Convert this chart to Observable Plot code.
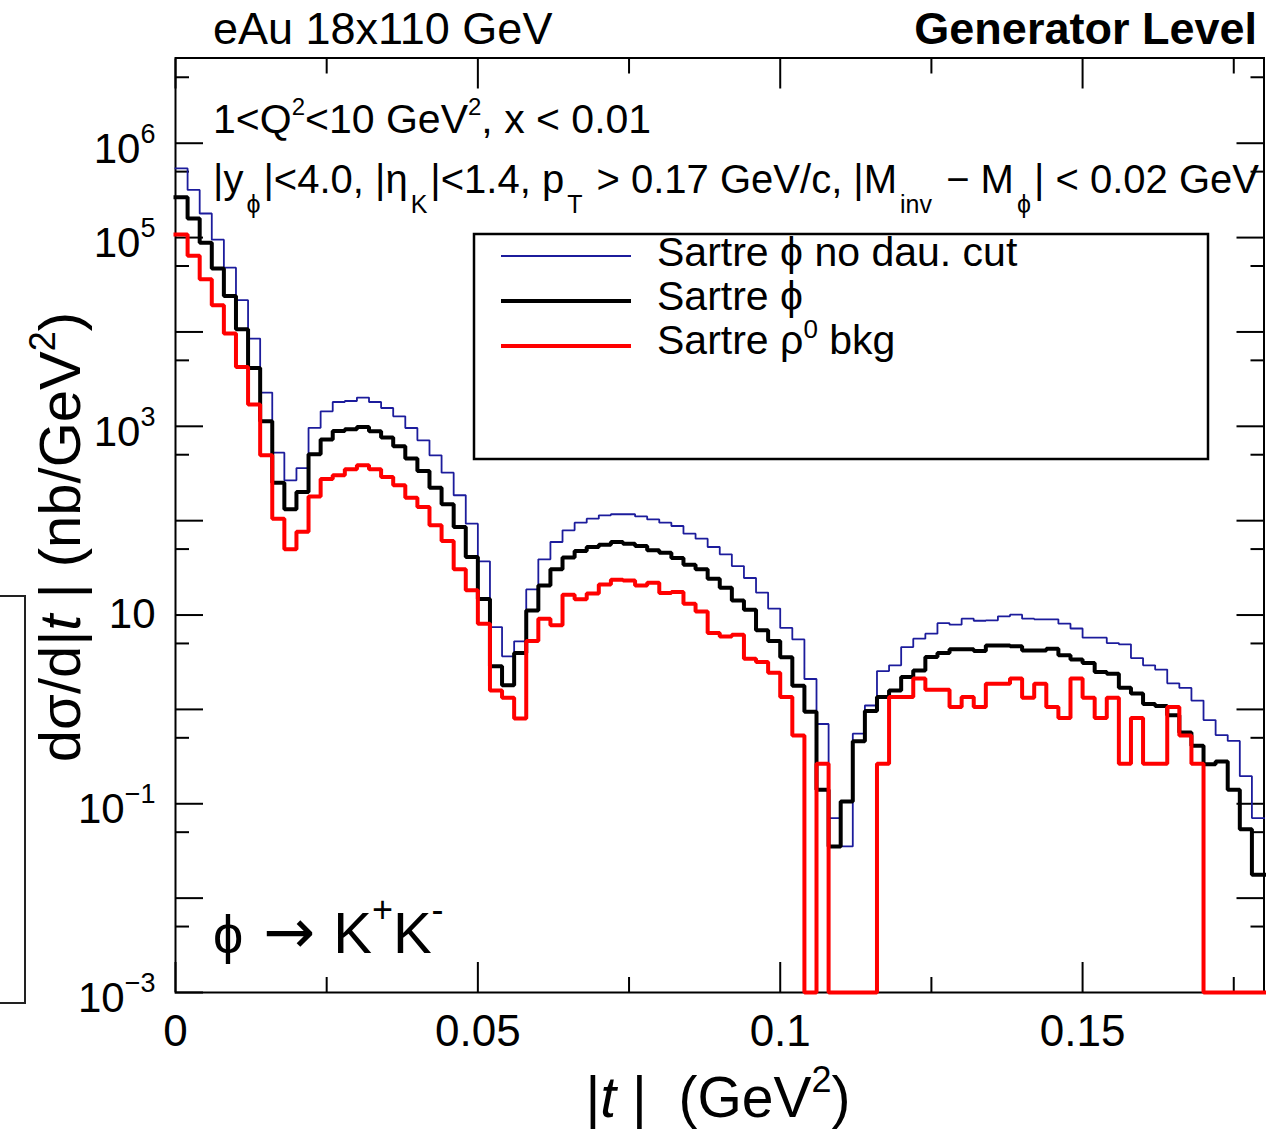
<!DOCTYPE html>
<html>
<head>
<meta charset="utf-8">
<script src="https://cdn.jsdelivr.net/npm/d3@7"></script>
<script src="https://cdn.jsdelivr.net/npm/@observablehq/plot@0.6"></script>
<style>
  html, body { margin: 0; padding: 0; background: #fff; }
  #wrap { position: relative; width: 1273px; height: 1129px; overflow: hidden; }
  #wrap svg { display: block; }
  #edge { position: absolute; left: -20px; top: 595px; width: 46px; height: 409px; border: 2px solid #222; box-sizing: border-box; }
</style>
</head>
<body>
<div id="wrap"><div id="edge"></div></div>
<script>
// ---- binning ----
const binWidth = 0.002;
const tMin = 0, tMax = 0.18;
const yMin = 1e-3, yMax = 8e6;

// ---- histogram contents, dσ/d|t| (nb/GeV^2), 90 bins of 0.002 GeV^2 ----
const noDauCut = [
  5.4e5, 3.2e5, 1.8e5, 9.5e4, 4.8e4, 2.17e4, 8.5e3, 2280, 526, 268,
  361, 964, 1443, 1811, 1855, 2014, 1811, 1564, 1277, 960,
  711, 493, 323, 186, 93, 37.1, 7.46, 3.65, 5.26, 18.7,
  38.9, 59.4, 79, 95.3, 105, 114, 117, 117, 111, 103,
  95.3, 87.8, 72.9, 64.5, 52.6, 44, 33, 24.7, 17.3, 11.7,
  7.3, 5.52, 2.1, 0.70, 0.0705, 0.0353, 0.553, 1.10, 2.55, 2.93,
  4.58, 5.62, 6.35, 8.2, 7.9, 9.16, 8.7, 8.8, 9.7, 10.1,
  9.16, 9.0, 9.0, 8.1, 7.2, 5.75, 5.75, 5.05, 4.89, 3.5,
  2.93, 2.64, 1.89, 1.69, 1.24, 0.77, 0.535, 0.463, 0.196, 0.0705
];
const phiSignal = [
  2.67e5, 1.59e5, 8.8e4, 4.7e4, 2.41e4, 1.07e4, 4150, 1130, 253, 132,
  201, 505, 725, 891, 929, 984, 885, 759, 614, 455,
  336, 224, 149, 85.7, 41.2, 14.8, 2.86, 1.80, 3.95, 11.2,
  20.6, 30.5, 40.6, 47.7, 52.6, 55.7, 59.4, 57.1, 53.8, 48.5,
  45.8, 40.2, 34.2, 30.5, 24.3, 19.5, 14.3, 11.4, 6.9, 5.3,
  3.56, 1.78, 0.946, 0.141, 0.0353, 0.106, 0.461, 0.96, 1.35, 1.59,
  2.2, 2.59, 3.59, 3.95, 4.33, 4.33, 4.15, 4.77, 4.77, 4.66,
  4.22, 4.22, 4.4, 3.74, 3.37, 3.1, 2.49, 2.39, 1.70, 1.47,
  1.14, 1.09, 0.865, 0.568, 0.412, 0.263, 0.28, 0.141, 0.0537, 0.0177
];
const rhoBkg = [
  1.08e5, 6.43e4, 3.62e4, 1.92e4, 9.6e3, 4260, 1700, 493, 105, 49.7,
  76.5, 180, 277, 303, 350, 386, 350, 290, 237, 175,
  140, 89.3, 60.8, 30.5, 18.3, 8.1, 1.59, 1.33, 0.80, 5.3,
  9.16, 7.78, 16.4, 14.7, 16.9, 21.1, 23.7, 23.3, 20.6, 22,
  17.1, 17.5, 13.2, 10.9, 6.44, 5.94, 6.2, 3.45, 3.17, 2.45,
  1.35, 0.53, 0, 0.265, 0, 0, 0, 0, 0.265, 1.35,
  1.35, 2.12, 1.62, 1.62, 1.06, 1.35, 1.06, 1.87, 1.87, 2.12,
  1.33, 1.87, 1.06, 0.81, 2.12, 1.33, 0.81, 1.33, 0.265, 0.81,
  0.265, 0.265, 1.06, 0.53, 0.265, 0, 0, 0, 0, 0
];

// ---- ticks ----
const xMajorTicks = [0, 0.05, 0.1, 0.15];
const xMinorTicks = [0.025, 0.075, 0.125, 0.175];
const xTickLabels = ["0", "0.05", "0.1", "0.15"];
const yMajorTicks = [1e-3, 1e-2, 1e-1, 1, 10, 1e2, 1e3, 1e4, 1e5, 1e6];
const yMinorTicks = [5e-3, 5e-2, 5e-1, 5, 50, 5e2, 5e3, 5e4, 5e5, 5e6];
const yLabelValues = [1e-3, 1e-1, 10, 1e3, 1e5, 1e6];
const yLabelTexts = ["10^−3", "10^−1", "10", "10^3", "10^5", "10^6"];

// ---- series ----
const seriesNames = ["Sartre ϕ no dau. cut", "Sartre ϕ", "Sartre ρ^0 bkg"];
const seriesValues = [noDauCut, phiSignal, rhoBkg];
const seriesColors = ["#1c1c9c", "#000000", "#ff0000"];
const seriesWidths = [1.8, 4, 4];

function histPoints(values, s) {
  const pts = values.map((v, i) => ({t: tMin + i * binWidth, v, s}));
  pts.push({t: tMin + values.length * binWidth, v: values[values.length - 1], s});
  return pts;
}

const FONT = "'Liberation Sans', Arial, Helvetica, sans-serif";
const tick = {stroke: "black", strokeWidth: 2, fill: "none", label: null};

const chart = Plot.plot({
  width: 1273,
  height: 1129,
  marginLeft: 175,
  marginRight: 9.5,
  marginTop: 57.5,
  marginBottom: 137,
  style: {fontFamily: FONT, background: "white", color: "black", overflow: "visible"},
  x: {domain: [tMin, tMax], label: null},
  y: {type: "log", domain: [yMin, yMax], label: null},
  marks: [
    // inward ticks on all four sides
    Plot.axisX(xMajorTicks, {...tick, anchor: "bottom", tickSize: 30, dy: -30}),
    Plot.axisX(xMinorTicks, {...tick, anchor: "bottom", tickSize: 15, dy: -15}),
    Plot.axisX(xMajorTicks, {...tick, anchor: "top", tickSize: 30, dy: 30}),
    Plot.axisX(xMinorTicks, {...tick, anchor: "top", tickSize: 15, dy: 15}),
    Plot.axisY(yMajorTicks, {...tick, anchor: "left", tickSize: 28, dx: 28}),
    Plot.axisY(yMinorTicks, {...tick, anchor: "left", tickSize: 14, dx: 14}),
    Plot.axisY(yMajorTicks, {...tick, anchor: "right", tickSize: 28, dx: -28}),
    Plot.axisY(yMinorTicks, {...tick, anchor: "right", tickSize: 14, dx: -14}),
    // tick labels
    Plot.axisX(xMajorTicks, {anchor: "bottom", tickSize: 0, tickPadding: 22, fontSize: 44, fill: "black", label: null,
      tickFormat: d => xTickLabels[xMajorTicks.indexOf(d)]}),
    Plot.axisY(yLabelValues, {anchor: "left", tickSize: 0, tickPadding: 20, fontSize: 42, fill: "black", label: null,
      tickFormat: d => yLabelTexts[yLabelValues.indexOf(d)]}),
    Plot.frame({stroke: "black", strokeWidth: 2}),
    // histograms
    ...seriesValues.map((vals, k) => Plot.line(histPoints(vals, k), {
      x: "t",
      y: d => Math.max(d.v, yMin),
      curve: "step-after",
      stroke: seriesColors[k],
      strokeWidth: seriesWidths[k],
      strokeLinejoin: "miter",
      strokeLinecap: "square"
    }))
  ]
});

document.getElementById("wrap").prepend(chart);
const svg = d3.select(chart);

// superscripts on y tick labels
svg.selectAll("text").each(function () {
  const m = /^10\^(.+)$/.exec(this.textContent);
  if (!m) return;
  const el = d3.select(this);
  el.text(null);
  el.append("tspan").attr("dy", 6).text("10");
  el.append("tspan").attr("dy", -20).attr("font-size", 27).text(m[1]);
});

function rich(parent, o, parts) {
  const t = parent.append("text")
    .attr("x", o.x).attr("y", o.y)
    .attr("font-size", o.size)
    .attr("font-family", FONT)
    .attr("text-anchor", o.anchor || "start")
    .attr("font-weight", o.weight || "normal")
    .attr("fill", "black");
  if (o.transform) t.attr("transform", o.transform);
  let cur = 0;
  for (const p of parts) {
    const off = p.off || 0;
    const ts = t.append("tspan").attr("dy", off - cur).text(p.t);
    cur = off;
    if (p.size) ts.attr("font-size", p.size);
    if (p.italic) ts.attr("font-style", "italic");
    if (p.dx) ts.attr("dx", p.dx);
    if (p.family) ts.attr("font-family", p.family);
  }
  return t;
}

const ann = svg.append("g");
rich(ann, {x: 213, y: 44, size: 45}, [{t: "eAu 18x110 GeV"}]);
rich(ann, {x: 1257, y: 44, size: 45, anchor: "end", weight: "bold"}, [{t: "Generator Level"}]);
rich(ann, {x: 213, y: 133, size: 41}, [
  {t: "1<Q"}, {t: "2", off: -18, size: 24}, {t: "<10 GeV"}, {t: "2", off: -18, size: 24}, {t: ", x < 0.01"}
]);
rich(ann, {x: 213, y: 193, size: 40}, [
  {t: "|y"}, {t: "ϕ", off: 20, size: 25, dx: 3}, {t: "|<4.0, |η", dx: 3}, {t: "K", off: 20, size: 25, dx: 3},
  {t: "|<1.4, p", dx: 3}, {t: "T", off: 20, size: 25, dx: 3}, {t: " > 0.17 GeV/c, |M", dx: 3},
  {t: "inv", off: 20, size: 25, dx: 3}, {t: " − M", dx: 3}, {t: "ϕ", off: 20, size: 25, dx: 3},
  {t: "| < 0.02 GeV", dx: 3}
]);
rich(ann, {x: 213, y: 953, size: 54}, [
  {t: "ϕ"}, {t: "→", family: "'DejaVu Sans', sans-serif", size: 62, dx: 20},
  {t: "K", dx: 18, size: 58}, {t: "+", off: -31, size: 36}, {t: "K", size: 58}, {t: "-", off: -31, size: 36}
]);
rich(ann, {x: 80, y: 537, size: 58, anchor: "middle", transform: "rotate(-90,80,537)"}, [
  {t: "dσ/d|"}, {t: "t", italic: true}, {t: " | (nb/GeV"}, {t: "2", off: -25, size: 36}, {t: ")"}
]);
rich(ann, {x: 718, y: 1117, size: 57, anchor: "middle"}, [
  {t: "|"}, {t: "t", italic: true}, {t: " |  (GeV"}, {t: "2", off: -25, size: 36}, {t: ")"}
]);

// legend
const lg = svg.append("g");
lg.append("rect").attr("x", 474).attr("y", 234).attr("width", 734).attr("height", 225)
  .attr("fill", "white").attr("stroke", "black").attr("stroke-width", 2.5);
seriesNames.forEach((name, k) => {
  const yLine = 256 + k * 45;
  lg.append("line").attr("x1", 501).attr("x2", 631).attr("y1", yLine).attr("y2", yLine)
    .attr("stroke", seriesColors[k]).attr("stroke-width", seriesWidths[k]);
  const parts = name.split("^");
  const segs = [{t: parts[0]}];
  if (parts.length > 1) {
    const rest = parts[1];
    segs.push({t: rest[0], off: -16, size: 26}, {t: rest.slice(1)});
  }
  rich(lg, {x: 657, y: 266 + k * 44, size: 41}, segs);
});
</script>
</body>
</html>
